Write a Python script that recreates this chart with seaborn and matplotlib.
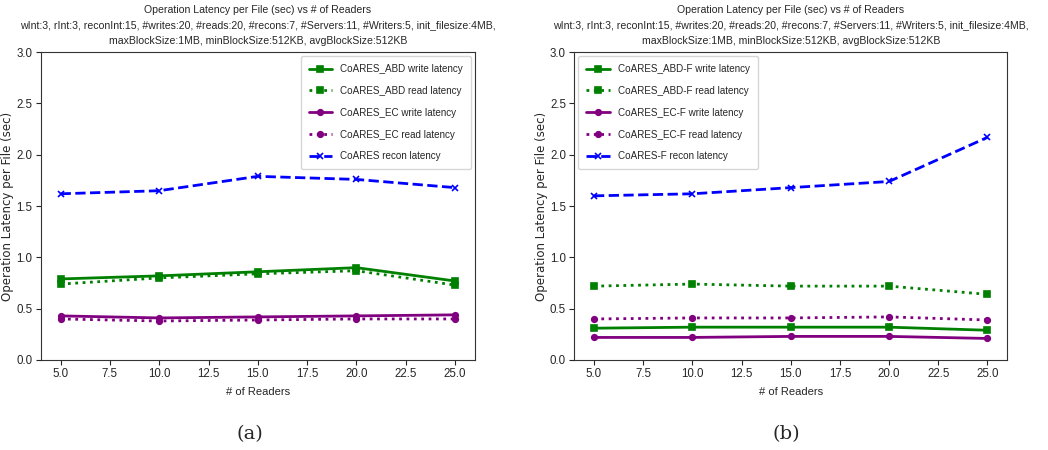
import numpy as np
import pandas as pd
import matplotlib
matplotlib.use("Agg")
import matplotlib.pyplot as plt
import seaborn as sns

# readers on the x axis
readers = [5, 10, 15, 20, 25]

# (a) CoARES
abd_write = [0.79, 0.82, 0.86, 0.90, 0.77]
abd_read = [0.74, 0.80, 0.84, 0.87, 0.73]
ec_write = [0.43, 0.41, 0.42, 0.43, 0.44]
ec_read = [0.40, 0.38, 0.39, 0.40, 0.40]
recon = [1.62, 1.65, 1.79, 1.76, 1.68]

# (b) CoARES-F
abdf_write = [0.31, 0.32, 0.32, 0.32, 0.29]
abdf_read = [0.72, 0.74, 0.72, 0.72, 0.64]
ecf_write = [0.22, 0.22, 0.23, 0.23, 0.21]
ecf_read = [0.40, 0.41, 0.41, 0.42, 0.39]
reconf = [1.60, 1.62, 1.68, 1.74, 2.17]

title = ("Operation Latency per File (sec) vs # of Readers\n"
         "wInt:3, rInt:3, reconInt:15, #writes:20, #reads:20, #recons:7, #Servers:11, #Writers:5, init_filesize:4MB,\n"
         "maxBlockSize:1MB, minBlockSize:512KB, avgBlockSize:512KB")

sns.set_style("ticks")
plt.rcParams['font.family'] = ['Liberation Sans']

fig = plt.figure(figsize=(10.48, 4.5), dpi=100)
ax1 = fig.add_axes([0.039, 0.2, 0.414, 0.684])
ax2 = fig.add_axes([0.548, 0.2, 0.413, 0.684])

styles = [
    ("green", "-", "s"),
    ("green", ":", "s"),
    ("purple", "-", "o"),
    ("purple", ":", "o"),
    ("blue", "--", "x"),
]

panels = [
    (ax1, [abd_write, abd_read, ec_write, ec_read, recon],
     ["CoARES_ABD write latency", "CoARES_ABD read latency",
      "CoARES_EC write latency", "CoARES_EC read latency",
      "CoARES recon latency"], "upper right"),
    (ax2, [abdf_write, abdf_read, ecf_write, ecf_read, reconf],
     ["CoARES_ABD-F write latency", "CoARES_ABD-F read latency",
      "CoARES_EC-F write latency", "CoARES_EC-F read latency",
      "CoARES-F recon latency"], "upper left"),
]

for ax, series, labels, loc in panels:
    for vals, lab, (c, ls, m) in zip(series, labels, styles):
        df = pd.DataFrame({"readers": readers, "lat": vals})
        sns.lineplot(data=df, x="readers", y="lat", ax=ax, color=c,
                     linestyle=ls, marker=m, markersize=4, linewidth=2,
                     markeredgecolor=c, markeredgewidth=1.2, label=lab)
    ax.set_ylim(0, 3.0)
    ax.set_xlim(4, 26)
    ax.set_xticks(np.arange(5, 25.1, 2.5))
    ax.set_yticks(np.arange(0, 3.01, 0.5))
    ax.tick_params(labelsize=8.3, length=3.5, pad=2.5)
    ax.set_xlabel("# of Readers", fontsize=8, labelpad=5)
    ax.set_ylabel("Operation Latency per File (sec)", fontsize=8.5,
                  family="DejaVu Sans", labelpad=1.5)
    ax.set_title(title, fontsize=7.6, linespacing=1.7, pad=6)
    ax.legend(loc=loc, fontsize=7.1, handlelength=2.4, labelspacing=1.2,
              borderpad=0.8, borderaxespad=0.4, framealpha=0.8)
    for s in ax.spines.values():
        s.set_visible(True)
        s.set_color("#333333")

fig.text(0.238, 0.025, "(a)", fontsize=14, family="serif", ha="center")
fig.text(0.75, 0.025, "(b)", fontsize=14, family="serif", ha="center")

fig.savefig("out.png", dpi=100)
